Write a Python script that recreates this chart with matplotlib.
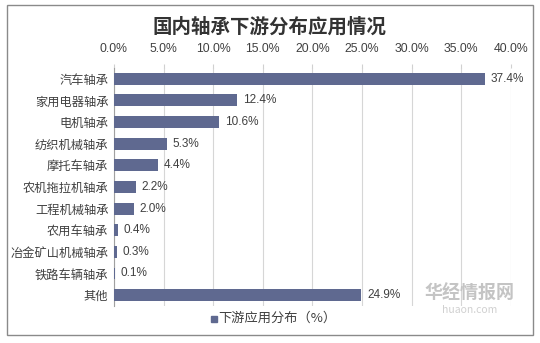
import numpy as np
import matplotlib.pyplot as plt
from matplotlib.patches import Rectangle

plt.rcParams['font.family'] = ['Noto Sans CJK SC', 'DejaVu Sans']

categories = ['汽车轴承', '家用电器轴承', '电机轴承', '纺织机械轴承', '摩托车轴承',
              '农机拖拉机轴承', '工程机械轴承', '农用车轴承', '冶金矿山机械轴承',
              '铁路车辆轴承', '其他']
values = [37.4, 12.4, 10.6, 5.3, 4.4, 2.2, 2.0, 0.4, 0.3, 0.1, 24.9]
ticks = [0, 5, 10, 15, 20, 25, 30, 35, 40]

bar_color = '#5f6990'
text_color = '#404040'

fig = plt.figure(figsize=(5.4, 3.43), dpi=100)
ax = fig.add_axes([0.211, 0.108, 0.735, 0.694])

y = np.arange(len(categories))
ax.barh(y, values, height=0.55, color=bar_color, zorder=3)
ax.set_ylim(len(categories) - 0.5, -0.5)
ax.set_xlim(0, 40)

for yi, v in zip(y, values):
    ax.text(v + 0.6, yi, f'{v:.1f}%', va='center', ha='left', fontsize=8.5,
            color=text_color, family=['Liberation Sans', 'DejaVu Sans'])

ax.set_yticks(y)
ax.set_yticklabels(categories, fontsize=8.8, color=text_color)
ax.xaxis.tick_top()
ax.set_xticks(ticks)
ax.set_xticklabels([f'{t:.1f}%' for t in ticks], fontsize=8.8, color=text_color,
                   family=['Liberation Sans', 'DejaVu Sans'])
ax.tick_params(axis='x', length=3, color='#d0d0d0', pad=6)
ax.tick_params(axis='y', length=0, pad=4)
ax.grid(axis='x', color='#d6d6d6', linewidth=0.8, zorder=0)
for s in ['top', 'right', 'bottom']:
    ax.spines[s].set_visible(False)
ax.spines['left'].set_color('#a0a0a0')

fig.text(0.5, 0.92, '国内轴承下游分布应用情况', ha='center', va='center',
         fontsize=14, fontweight='bold', color='#333333')

# legend
fig.patches.append(Rectangle((0.39, 0.062), 0.011, 0.017, transform=fig.transFigure,
                             color=bar_color))
fig.text(0.405, 0.071, '下游应用分布（%）', ha='left', va='center', fontsize=9.5,
         color=text_color)

# watermark
fig.text(0.87, 0.145, '华经情报网', ha='center', va='center', fontsize=13,
         color='#c4c4c4', fontweight='bold')
fig.text(0.87, 0.095, 'huaon.com', ha='center', va='center', fontsize=7.5,
         color='#d0d0d0')

# outer frame
fig.patches.append(Rectangle((7 / 540, 1 - 335 / 343), 526 / 540, 330 / 343,
                             transform=fig.transFigure, fill=False,
                             edgecolor='#8a8a8a', linewidth=1))

fig.savefig('out.png', dpi=100)
